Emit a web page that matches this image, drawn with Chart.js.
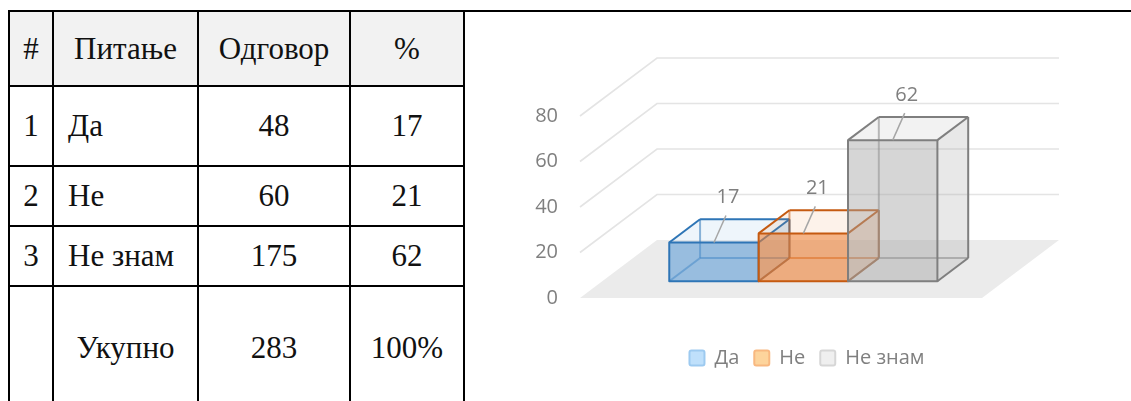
<!DOCTYPE html>
<html lang="sr">
<head>
  <meta charset="UTF-8" />
  <title>Питање — одговори</title>
  <script src="https://cdn.jsdelivr.net/npm/chart.js"></script>
  <style>
    html, body { margin: 0; padding: 0; background: #fff; }
    body { width: 1131px; height: 401px; position: relative; overflow: hidden; }
    .topline { position: absolute; left: 8px; right: 0; top: 10px; height: 2px; background: #000; }
    table.res {
      position: absolute; left: 8px; top: 10px;
      border-collapse: collapse; table-layout: fixed;
      font-family: "Liberation Serif", "Times New Roman", serif;
      font-size: 31px; color: #111;
    }
    table.res td, table.res th {
      border: 2px solid #000; padding: 0; text-align: center; font-weight: normal;
    }
    table.res th { background: #f2f2f2; }
    table.res td.txt { text-align: left; padding-left: 14px; }
    #chartBox { position: absolute; left: 470px; top: 0; width: 661px; height: 401px; }
  </style>
</head>
<body>
  <div class="topline"></div>
  <table class="res" id="resTable">
    <colgroup>
      <col style="width:44px" /><col style="width:145px" /><col style="width:152px" /><col style="width:114px" />
    </colgroup>
  </table>
  <div id="chartBox"><canvas id="odgovoriChart" width="661" height="401"></canvas></div>

  <script>
    // podaci
    const headers = ['#', 'Питање', 'Одговор', '%'];
    const answers = ['Да', 'Не', 'Не знам'];
    const counts = [48, 60, 175];
    const percents = [17, 21, 62];
    const totalLabel = 'Укупно';
    const totalCount = 283;
    const totalPercent = '100%';
    const yMin = 0, yMax = 80, yStep = 20;

    // stil serija
    const legendFill = ['#bfe0fb', '#fdd49c', '#efefef'];
    const legendBorder = ['#9dcaf0', '#f8b880', '#d6d6d6'];
    const edgeColors = ['#2e75b6', '#c55a11', '#7f7f7f'];
    const frontFill = ['rgba(91,155,213,0.58)', 'rgba(237,125,49,0.58)', 'rgba(165,165,165,0.45)'];
    const topFill = ['rgba(91,155,213,0.1)', 'rgba(237,125,49,0.1)', 'rgba(165,165,165,0.15)'];
    const sideFill = ['rgba(91,155,213,0.25)', 'rgba(237,125,49,0.25)', 'rgba(165,165,165,0.25)'];

    // tabela
    const table = document.getElementById('resTable');
    const rowHeights = [75, 80, 60, 60, 123];
    let tr = table.insertRow();
    tr.style.height = rowHeights[0] + 'px';
    headers.forEach(h => {
      const th = document.createElement('th');
      th.textContent = h;
      tr.appendChild(th);
    });
    answers.forEach((a, i) => {
      tr = table.insertRow();
      tr.style.height = rowHeights[i + 1] + 'px';
      [i + 1, a, counts[i], percents[i]].forEach((v, j) => {
        const td = tr.insertCell();
        td.textContent = v;
        if (j === 1) td.className = 'txt';
      });
    });
    tr = table.insertRow();
    tr.style.height = rowHeights[4] + 'px';
    ['', totalLabel, totalCount, totalPercent].forEach(v => {
      tr.insertCell().textContent = v;
    });

    // 3D kutije
    const DEPTH = { x: 77, y: -58 };
    const FRONT = 0.29, BACK = 0.69;

    function poly(ctx, pts, fill) {
      ctx.beginPath();
      ctx.moveTo(pts[0][0], pts[0][1]);
      for (let k = 1; k < pts.length; k++) ctx.lineTo(pts[k][0], pts[k][1]);
      ctx.closePath();
      ctx.fillStyle = fill;
      ctx.fill();
    }
    function line(ctx, a, b) {
      ctx.beginPath();
      ctx.moveTo(a[0], a[1]);
      ctx.lineTo(b[0], b[1]);
      ctx.stroke();
    }

    const box3d = {
      id: 'box3d',
      beforeDatasetsDraw(chart) {
        const ctx = chart.ctx;
        const ca = chart.chartArea;
        const ys = chart.scales.y;
        const y0 = ys.getPixelForValue(yMin);
        ctx.save();

        // pod
        poly(ctx, [[ca.left, y0], [ca.right, y0], [ca.right + DEPTH.x, y0 + DEPTH.y], [ca.left + DEPTH.x, y0 + DEPTH.y]], '#ebebeb');

        // linije mreže (bočni i zadnji zid)
        ctx.strokeStyle = '#e4e4e4';
        ctx.lineWidth = 1.6;
        ys.ticks.forEach(t => {
          if (t.value === yMin) return;
          const y = ys.getPixelForValue(t.value);
          ctx.beginPath();
          ctx.moveTo(ca.left, y);
          ctx.lineTo(ca.left + DEPTH.x, y + DEPTH.y);
          ctx.lineTo(ca.right + DEPTH.x, y + DEPTH.y);
          ctx.stroke();
        });

        const dx = (BACK - FRONT) * DEPTH.x, dy = (BACK - FRONT) * DEPTH.y;
        chart.data.datasets.forEach((ds, i) => {
          const el = chart.getDatasetMeta(i).data[0];
          const p = el.getProps(['x', 'y', 'base', 'width'], true);
          const x0 = p.x - p.width / 2 + FRONT * DEPTH.x, x1 = x0 + p.width;
          const yT = p.y + FRONT * DEPTH.y, yB = p.base + FRONT * DEPTH.y;

          ctx.lineWidth = 2;
          ctx.strokeStyle = edgeColors[i];
          ctx.lineJoin = 'round';
          // skrivene ivice
          ctx.globalAlpha = 0.55;
          line(ctx, [x0 + dx, yT + dy], [x0 + dx, yB + dy]);
          line(ctx, [x0 + dx, yB + dy], [x1 + dx, yB + dy]);
          line(ctx, [x0, yB], [x0 + dx, yB + dy]);
          ctx.globalAlpha = 1;

          // strane
          poly(ctx, [[x1, yT], [x1 + dx, yT + dy], [x1 + dx, yB + dy], [x1, yB]], sideFill[i]);
          poly(ctx, [[x0, yT], [x1, yT], [x1 + dx, yT + dy], [x0 + dx, yT + dy]], topFill[i]);
          poly(ctx, [[x0, yT], [x1, yT], [x1, yB], [x0, yB]], frontFill[i]);

          // vidljive ivice
          ctx.strokeRect(x0, yT, p.width, yB - yT);
          line(ctx, [x0 + dx, yT + dy], [x1 + dx, yT + dy]);
          line(ctx, [x0, yT], [x0 + dx, yT + dy]);
          line(ctx, [x1, yT], [x1 + dx, yT + dy]);
          line(ctx, [x1 + dx, yT + dy], [x1 + dx, yB + dy]);
          line(ctx, [x1, yB], [x1 + dx, yB + dy]);
        });

        // oznake vrednosti
        chart.data.datasets.forEach((ds, i) => {
          const el = chart.getDatasetMeta(i).data[0];
          const p = el.getProps(['x', 'y'], true);
          const cx = p.x + FRONT * DEPTH.x, cy = p.y + FRONT * DEPTH.y;
          ctx.strokeStyle = '#a6a6a6';
          ctx.lineWidth = 1.5;
          line(ctx, [cx, cy], [cx + 12, cy - 27]);
          ctx.fillStyle = '#7f7f7f';
          ctx.font = '20px "Open Sans"';
          ctx.textAlign = 'center';
          ctx.textBaseline = 'middle';
          ctx.fillText(String(ds.data[0]), cx + 14, cy - 45);
        });

        ctx.restore();
        return false;
      }
    };

    new Chart(document.getElementById('odgovoriChart'), {
      type: 'bar',
      data: {
        labels: [''],
        datasets: answers.map((a, i) => ({
          label: a,
          data: [percents[i]],
          backgroundColor: legendFill[i],
          borderColor: legendBorder[i],
          borderWidth: 2
        }))
      },
      options: {
        responsive: false,
        animation: false,
        events: [],
        layout: { padding: { left: 20, right: 7, top: 116, bottom: 23 } },
        datasets: { bar: { categoryPercentage: 0.667, barPercentage: 1 } },
        scales: {
          x: {
            grid: { display: false },
            border: { display: false },
            ticks: { display: false },
            afterFit: s => { s.height = 35; }
          },
          y: {
            min: yMin, max: yMax,
            grid: { display: false },
            border: { display: false },
            ticks: { stepSize: yStep, padding: 14, color: '#7f7f7f', font: { family: 'Open Sans', size: 20 } },
            afterFit: s => { s.width = 90; }
          },
          y2: {
            position: 'right',
            grid: { display: false },
            border: { display: false },
            ticks: { display: false },
            afterFit: s => { s.width = 142; }
          }
        },
        plugins: {
          tooltip: { enabled: false },
          legend: {
            position: 'bottom',
            labels: {
              boxWidth: 15, boxHeight: 15, padding: 15,
              useBorderRadius: true, borderRadius: 2,
              color: '#7f7f7f',
              font: { family: 'Open Sans', size: 20 }
            }
          }
        }
      },
      plugins: [box3d]
    });
  </script>
</body>
</html>
